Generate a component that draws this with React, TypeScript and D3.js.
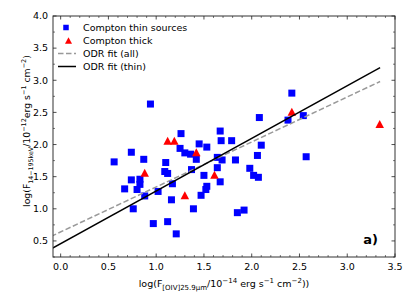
import React from 'react'
import * as d3 from 'd3'

// Compton thin sources (blue squares)
const thinX = [0.56, 0.67, 0.74, 0.74, 0.76, 0.8, 0.83, 0.83, 0.87, 0.88, 0.94, 0.97, 1.02, 1.1, 1.09, 1.12, 1.12, 1.16, 1.17, 1.21, 1.26, 1.25, 1.3, 1.36, 1.37, 1.39, 1.42, 1.45, 1.47, 1.5, 1.53, 1.52, 1.53, 1.64, 1.64, 1.67, 1.68, 1.69, 1.67, 1.79, 1.83, 1.85, 1.92, 1.98, 2.02, 2.07, 2.06, 2.08, 2.1, 2.38, 2.42, 2.54, 2.57]
const thinY = [1.73, 1.31, 1.88, 1.45, 1.0, 1.3, 1.46, 1.38, 1.77, 1.2, 2.63, 0.77, 1.27, 1.72, 1.58, 1.55, 0.8, 1.14, 1.39, 0.61, 2.17, 1.94, 1.87, 1.85, 1.61, 1.0, 1.77, 2.01, 1.21, 1.52, 1.35, 1.3, 1.96, 1.8, 1.64, 2.21, 2.06, 1.76, 1.42, 2.06, 1.76, 0.94, 0.98, 1.63, 1.52, 1.49, 1.83, 2.42, 1.99, 2.38, 2.8, 2.45, 1.81]

// Compton thick (red triangles)
const thickX = [0.88, 1.12, 1.19, 1.3, 1.42, 1.61, 2.42, 3.34]
const thickY = [1.56, 2.06, 2.06, 1.21, 1.88, 1.53, 2.51, 2.32]

// ODR fits: [intercept, slope]
const fitAll = [0.64, 0.7]
const fitThin = [0.456, 0.82]
const fitRange = [-0.1, 3.344]

const xTicks = [0, 0.5, 1, 1.5, 2, 2.5, 3, 3.5]
const yTicks = [0.5, 1, 1.5, 2, 2.5, 3, 3.5, 4]

const W = 415
const H = 308
const left = 53, right = 395, top = 16, bottom = 257

const x = d3.scaleLinear().domain([-0.08, 3.5]).range([left, right])
const y = d3.scaleLinear().domain([0.25, 4.0]).range([bottom, top])

const xMinor = d3.range(0, 35).map(i => i / 10).filter(v => !xTicks.includes(v))
const yMinor = d3.range(0.25, 4.0, 0.5)

const font = 'DejaVu Sans'
const fs = 9.5
const ss = 7

const tri = (cx: number, cy: number, w: number, h: number) =>
  `M${cx},${cy - h / 2}L${cx + w / 2},${cy + h / 2}L${cx - w / 2},${cy + h / 2}Z`

const fitLine = (f: number[]) =>
  d3.line<number>().x(d => x(d)).y(d => y(f[0] + f[1] * d))(fitRange) as string

const App = () => {
  const tickStroke = '#222'
  return (
    <div style={{ position: 'fixed', left: 0, top: 0 }}>
      <svg width={W} height={H} style={{ display: 'block', background: '#fff' }} fontFamily={font}>
        <defs>
          <clipPath id="plot">
            <rect x={left} y={top} width={right - left} height={bottom - top} />
          </clipPath>
        </defs>

        {/* points */}
        <g clipPath="url(#plot)">
          {thinX.map((v, i) => (
            <rect key={'b' + i} x={x(v) - 3.5} y={y(thinY[i]) - 3.5} width={7} height={7} fill="#0000ff" />
          ))}
          {thickX.map((v, i) => (
            <path key={'r' + i} d={tri(x(v), y(thickY[i]), 8.5, 8)} fill="#ff0000" />
          ))}
          <path d={fitLine(fitAll)} fill="none" stroke="#999" strokeWidth={1.5} strokeDasharray="5.5,2.5" />
          <path d={fitLine(fitThin)} fill="none" stroke="#000" strokeWidth={1.5} />
        </g>

        {/* frame */}
        <rect x={left} y={top} width={right - left} height={bottom - top} fill="none" stroke="#333" strokeWidth={1} />

        {/* x ticks */}
        {xTicks.map(t => (
          <g key={'xt' + t}>
            <line x1={x(t)} x2={x(t)} y1={bottom} y2={bottom - 3.5} stroke={tickStroke} strokeWidth={0.8} />
            <line x1={x(t)} x2={x(t)} y1={top} y2={top + 3.5} stroke={tickStroke} strokeWidth={0.8} />
            <text x={x(t)} y={bottom + 13} textAnchor="middle" fontSize={fs} fill="#000">{t.toFixed(1)}</text>
          </g>
        ))}
        {xMinor.map(t => (
          <g key={'xm' + t}>
            <line x1={x(t)} x2={x(t)} y1={bottom} y2={bottom - 2} stroke={tickStroke} strokeWidth={0.6} />
            <line x1={x(t)} x2={x(t)} y1={top} y2={top + 2} stroke={tickStroke} strokeWidth={0.6} />
          </g>
        ))}

        {/* y ticks */}
        {yTicks.map(t => (
          <g key={'yt' + t}>
            <line x1={left} x2={left + 3.5} y1={y(t)} y2={y(t)} stroke={tickStroke} strokeWidth={0.8} />
            <line x1={right} x2={right - 3.5} y1={y(t)} y2={y(t)} stroke={tickStroke} strokeWidth={0.8} />
            <text x={left - 5} y={y(t)} dy="0.35em" textAnchor="end" fontSize={fs} fill="#000">{t.toFixed(1)}</text>
          </g>
        ))}
        {yMinor.map(t => (
          <g key={'ym' + t}>
            <line x1={left} x2={left + 2} y1={y(t)} y2={y(t)} stroke={tickStroke} strokeWidth={0.6} />
            <line x1={right} x2={right - 2} y1={y(t)} y2={y(t)} stroke={tickStroke} strokeWidth={0.6} />
          </g>
        ))}

        {/* legend */}
        <g fontSize={fs}>
          <rect x={66 - 2.75} y={27.5 - 2.75} width={5.5} height={5.5} fill="#0000ff" />
          <text x={83} y={27.5} dy="0.35em">Compton thin sources</text>
          <path d={tri(68.5, 40.5, 7, 6.5)} fill="#ff0000" />
          <text x={83} y={40.5} dy="0.35em">Compton thick</text>
          <line x1={58} x2={76} y1={53.5} y2={53.5} stroke="#999" strokeWidth={1.5} strokeDasharray="5.5,2.5" />
          <text x={83} y={53.5} dy="0.35em">ODR fit (all)</text>
          <line x1={58} x2={76} y1={66.5} y2={66.5} stroke="#000" strokeWidth={1.5} />
          <text x={83} y={66.5} dy="0.35em">ODR fit (thin)</text>
        </g>

        {/* panel tag */}
        <text x={378} y={244} textAnchor="end" fontSize={13} fontWeight="bold">a)</text>

        {/* x label */}
        <text x={(left + right) / 2} y={287} textAnchor="middle" fontSize={fs}>
          log(F<tspan fontSize={ss} dy={2.5}>[OIV]25.9μm</tspan>
          <tspan dy={-2.5}>/10</tspan>
          <tspan fontSize={ss} dy={-4}>−14</tspan>
          <tspan dy={4}> erg s</tspan>
          <tspan fontSize={ss} dy={-4}>−1</tspan>
          <tspan dy={4}> cm</tspan>
          <tspan fontSize={ss} dy={-4}>−2</tspan>
          <tspan dy={4}>))</tspan>
        </text>

        {/* y label */}
        <text transform={`translate(30,131) rotate(-90)`} textAnchor="middle" fontSize={9.3}>
          log(F<tspan fontSize={6.3} dy={2.5}>14−195keV</tspan>
          <tspan dy={-2.5}>/10</tspan>
          <tspan fontSize={6.5} dy={-4}>−12</tspan>
          <tspan dy={4}>erg s</tspan>
          <tspan fontSize={6.5} dy={-4}>−1</tspan>
          <tspan dy={4}> cm</tspan>
          <tspan fontSize={6.5} dy={-4}>−2</tspan>
          <tspan dy={4}>)</tspan>
        </text>
      </svg>
    </div>
  )
}

export default App
